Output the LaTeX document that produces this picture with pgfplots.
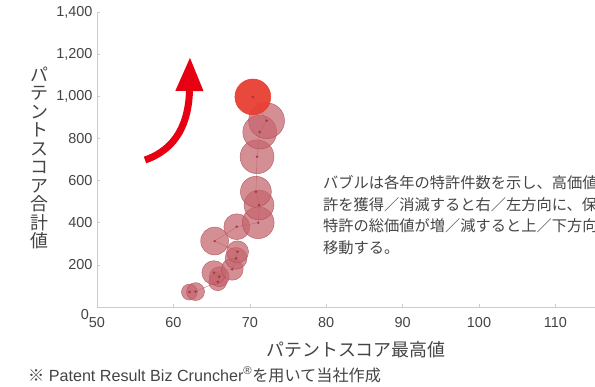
\documentclass[border=0pt]{standalone}
\usepackage{pgfplots}
\pgfplotsset{compat=1.18}
\usepackage{fontspec}
\setmainfont{Liberation Sans}
\newfontfamily\jp{Noto Sans CJK JP}
\usetikzlibrary{arrows.meta}
\definecolor{bub}{RGB}{196,100,108}
\definecolor{bubedge}{RGB}{178,78,88}
\definecolor{bright}{RGB}{232,62,50}
\definecolor{arrowred}{RGB}{230,0,18}
\definecolor{dotred}{RGB}{150,50,60}
\definecolor{txt}{RGB}{68,68,68}
\definecolor{axgray}{RGB}{205,205,205}

\pgfplotsset{
  bubble/.style={only marks, mark=*, mark size=#1,
    mark options={draw=bubedge, fill=bub, fill opacity=0.72, draw opacity=0.8, line width=0.5pt}},
  hot/.style={only marks, mark=*, mark size=#1,
    mark options={draw=bright, fill=bright, fill opacity=0.95, line width=0.5pt}},
}

\begin{document}
\begin{tikzpicture}
\useasboundingbox (-97bp,-80bp) rectangle (498bp,307bp);
\begin{scope}
\clip (-97bp,-80bp) rectangle (498bp,307bp);
\begin{axis}[
  at={(0,0)}, anchor=origin,
  scale only axis,
  width=534.8bp, height=295bp,
  xmin=50, xmax=120, ymin=0, ymax=1400,
  axis x line*=bottom, axis y line*=left,
  axis line style={draw=axgray, line width=0.8pt, -},
  xtick={50,60,...,120},
  ytick={200,400,...,1400},
  tick style={draw=axgray, line width=0.6pt},
  major tick length=3bp,
  tick align=inside,
  /pgf/number format/assume math mode=true,
  /pgf/number format/1000 sep={,},
  tick label style={font=\fontsize{14.5}{16}\selectfont, text=txt},
  yticklabel style={xshift=-1bp},
  xticklabel style={yshift=-7bp},
  clip=false,
]
\addplot[bubble=8] coordinates {(62.1,71)};
\addplot[bubble=9] coordinates {(62.9,73)};
\addplot[bubble=9] coordinates {(65.8,120)};
\addplot[bubble=10] coordinates {(66.0,144)};
\addplot[bubble=12] coordinates {(65.3,163)};
\addplot[bubble=11] coordinates {(67.7,179)};
\addplot[bubble=11] coordinates {(68.2,231)};
\addplot[bubble=11] coordinates {(68.4,262)};
\addplot[bubble=14] coordinates {(65.4,313)};
\addplot[bubble=13] coordinates {(68.3,381)};
\addplot[bubble=16] coordinates {(71.1,400)};
\addplot[bubble=15] coordinates {(71.2,484)};
\addplot[bubble=15.5] coordinates {(70.8,547)};
\addplot[bubble=17] coordinates {(70.95,713)};
\addplot[bubble=17] coordinates {(71.3,830)};
\addplot[bubble=18] coordinates {(72.2,884)};
\addplot[hot=18] coordinates {(70.4,997)};
\addplot[dotred, line width=0.4pt, opacity=0.7, mark=*, mark size=1.1,
  mark options={fill=dotred}] coordinates {
(62.1,71) (62.9,73) (65.8,120) (66.0,144) (65.3,163) (67.7,179) (68.2,231) (68.4,262)
(65.4,313) (68.3,381) (71.1,400) (71.2,484) (70.8,547) (70.95,713) (71.3,830) (72.2,884) (70.4,997)};
\end{axis}
\begin{scope}[x=1bp,y=1bp]
% y zero label
\node[font=\fontsize{14.5}{16}\selectfont, text=txt] at (-12,-8) {0};
% axis labels
\node[font=\jp\fontsize{18}{18}\selectfont, text=txt] at (259,-43) {パテントスコア最高値};
\node[font=\jp\fontsize{18}{18.6}\selectfont, text=txt, align=center, inner sep=0pt] at (-58,149)
  {パ\\テ\\ン\\ト\\ス\\コ\\ア\\合\\計\\値};
% footnote
\node[anchor=base west, inner sep=0pt, text=txt, font=\fontsize{16.2}{18}\selectfont] at (-69,-74)
  {{\jp ※} Patent Result Biz Cruncher\textsuperscript{\textregistered}{\jp を用いて当社作成}};
% annotation
\node[anchor=base west, inner sep=0pt, text=txt, font=\jp\fontsize{15.3}{16}\selectfont] at (226,118.5) {バブルは各年の特許件数を示し、高価値特};
\node[anchor=base west, inner sep=0pt, text=txt, font=\jp\fontsize{15.3}{16}\selectfont] at (226,96.8) {許を獲得／消滅すると右／左方向に、保有};
\node[anchor=base west, inner sep=0pt, text=txt, font=\jp\fontsize{15.3}{16}\selectfont] at (226,75.1) {特許の総価値が増／減すると上／下方向に};
\node[anchor=base west, inner sep=0pt, text=txt, font=\jp\fontsize{15.3}{16}\selectfont] at (226,53.4) {移動する。};
% arrow
\draw[arrowred, line width=7bp, -{Triangle[length=34bp,width=26bp]}]
  (48,147) .. controls (80,158) and (92,185) .. (93,250);
\end{scope}
\end{scope}
\end{tikzpicture}
\end{document}
